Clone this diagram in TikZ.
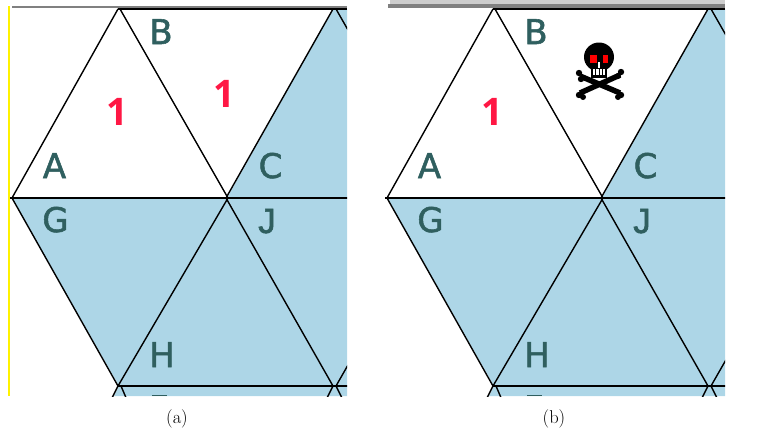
\documentclass[tikz,border=0pt]{standalone}
\usepackage{fontspec}
\setmainfont{Latin Modern Roman}
\newfontfamily\lblfont[FakeBold=1.6]{DejaVu Sans}
\newfontfamily\lblfontj[FakeBold=1.6]{Liberation Sans}
\newfontfamily\numfont{Open Sans}
\definecolor{panelblue}{HTML}{ADD6E7}
\definecolor{lblcol}{HTML}{2F5F5F}
\definecolor{numred}{HTML}{FF1744}
\definecolor{bardark}{HTML}{808080}
\definecolor{barlight}{HTML}{CDCDCD}
\tikzset{
  gridline/.style={black,line width=1.4pt},
  letter/.style={text=lblcol,font=\lblfont\fontsize{34}{34}\selectfont,anchor=base,inner sep=0pt},
  letterj/.style={text=lblcol,font=\lblfontj\fontsize{35}{35}\selectfont,anchor=base,inner sep=0pt},
  numeral/.style={text=numred,font=\numfont\bfseries\fontsize{38}{38}\selectfont,anchor=base,inner sep=0pt},
  caption/.style={font=\fontsize{18.5}{20}\selectfont,anchor=base,inner sep=0pt},
  bone/.style={black,line width=5.5pt}
}
\newcommand{\trianglepanel}[1]{%
  \fill[panelblue] (333,9) -- (227,198) -- (12,198) -- (119,386) -- (114,396) -- (352,396) -- (352,9) -- cycle;
  \coordinate (#1topL) at (118,9);
  \coordinate (#1topR) at (120,9);
  \coordinate (#1top2L) at (333,9);
  \coordinate (#1top2R) at (336,9);
  \coordinate (#1midL) at (12,198);
  \coordinate (#1midA) at (226,198);
  \coordinate (#1midB) at (228,198);
  \coordinate (#1botL) at (118,386);
  \coordinate (#1botR) at (121,386);
  \coordinate (#1bot2L) at (333,386);
  \coordinate (#1bot2R) at (336,386);
  \draw[gridline] (#1midL) -- (#1topL);
  \draw[gridline] (#1topR) -- (#1midB);
  \draw[gridline] (#1midA) -- (#1top2L);
  \draw[gridline] (#1top2R) -- (352,37);
  \draw[gridline] (#1midL) -- (#1botL);
  \draw[gridline] (#1midB) -- (#1botL);
  \draw[gridline] (#1midA) -- (#1bot2L);
  \draw[gridline] (#1bot2R) -- (352,358);
  \draw[gridline] (#1botR) -- (127,400);
  \draw[gridline] (#1botL) -- (111,400);
  \draw[gridline] (#1bot2L) -- (326,400);
  \draw[gridline] (#1bot2R) -- (343,400);
  \draw[gridline] (9,198) -- (352,198);
  \draw[gridline] (118,386) -- (352,386);
  \node[letter] (#1A) at (54.5,178) {A};
  \node[letter] (#1B) at (161,44) {B};
  \node[letter] (#1C) at (270.5,178) {C};
  \node[letter] (#1G) at (55.5,232) {G};
  \node[letterj] (#1J) at (267,233) {J};
  \node[letter] (#1H) at (162,367) {H};
  \fill[lblcol] (151.5,394.5) rectangle (167,396);
  \node[numeral] (#1one) at (117,125) {1};
}
\begin{document}
\begin{tikzpicture}[x=1pt,y=-1pt]
  \useasboundingbox (0,0) rectangle (757,439);
  % panel (a)
  \begin{scope}
    \clip (10,6) rectangle (347,396);
    \trianglepanel{a}
    \node[numeral] (aoneb) at (224.5,107) {1};
  \end{scope}
  \fill[yellow] (8,6) rectangle (10.3,396);
  \fill[bardark] (12,6) rectangle (347,8);
  \fill[black] (118,8) rectangle (347,10);
  \node[caption] (capa) at (177,423.5) {(a)};
  % panel (b)
  \begin{scope}[xshift=375pt]
    \begin{scope}
      \clip (10,6) rectangle (350,396);
      \trianglepanel{b}
    \end{scope}
    \fill[barlight] (15,0) rectangle (350,4);
    \fill[bardark] (13,4) rectangle (350,8);
    \fill[black] (118,8) rectangle (350,10);
    % skull and crossbones
    \draw[bone] (205,76) -- (245,93);
    \draw[bone] (245,75) -- (205,93);
    \fill (204,73) circle (3.2);
    \fill (206,79) circle (3.2);
    \fill (204,95) circle (3.2);
    \fill (208,97) circle (3);
    \fill (246,72) circle (3.2);
    \fill (243,76) circle (3);
    \fill (246,95) circle (3.2);
    \fill (243,97) circle (3);
    \fill[black] (224,57) ellipse (15 and 14.5);
    \fill[black] (216,62) rectangle (232,78);
    \fill[red] (214.5,55) rectangle (221.5,63);
    \fill[red] (228,55) rectangle (233,63);
    \fill[white] (223,62) rectangle (225,68);
    \fill[white] (218,69) rectangle (230,75);
    \foreach \tx in {220.5,224,227.5}
      \draw[black,line width=0.8pt] (\tx,69) -- (\tx,75);
  \end{scope}
  \node[caption] (capb) at (554,423.5) {(b)};
\end{tikzpicture}
\end{document}
